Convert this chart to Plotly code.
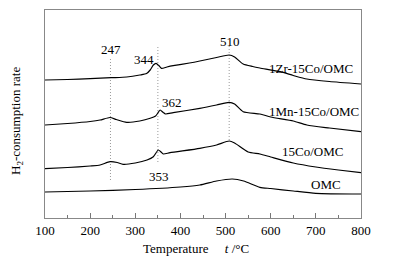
import plotly.graph_objects as go

# Temperature (°C) and H2-consumption signal (arbitrary units, offset per curve)
zr_t = [100, 150, 200, 247, 281, 310, 325, 333, 340, 346, 352, 358, 370, 384, 420, 443, 480, 508, 520, 539, 560, 576, 621, 650, 680, 730, 800]
zr_v = [138, 138.5, 139.3, 140.3, 141, 143, 144.5, 148, 153, 154.7, 152.5, 149.7, 151, 152.3, 155, 157, 160.5, 163, 161, 154, 151.5, 150, 146.3, 142.5, 139, 136.5, 134]

mn_t = [100, 150, 200, 222, 244, 258, 281, 310, 333, 345, 350, 355, 362, 367, 384, 443, 480, 508, 520, 539, 576, 600, 650, 680, 730, 800]
mn_v = [93, 94.5, 96.5, 98, 100.5, 98.5, 95.7, 97, 99.7, 102, 105, 108, 105.5, 104, 105.3, 109.7, 113, 115.7, 114, 106.3, 104, 101, 97, 93, 90, 86.3]

co_t = [100, 150, 200, 222, 244, 260, 273, 300, 326, 340, 351, 357, 362, 377, 443, 480, 508, 520, 550, 576, 600, 650, 700, 750, 800]
co_v = [49.3, 50.5, 52, 53, 56.3, 55.5, 53.7, 55, 58, 61.3, 68, 66, 64, 65.3, 69.7, 73, 77, 75, 66, 64, 61, 55, 51, 48, 45.3]

omc_t = [100, 200, 300, 400, 443, 480, 515, 540, 576, 600, 650, 700, 800]
omc_v = [26, 27, 28.5, 31, 33, 37, 39, 37, 30.7, 29.5, 27, 24.7, 24]

series_names = ["1Zr-15Co/OMC", "1Mn-15Co/OMC", "15Co/OMC", "OMC"]
label_x = [689, 696, 692.6, 722.5]
label_y = [150, 106.5, 67, 33.5]

peak_labels = ["247", "344", "510", "362", "353"]
peak_x = [247, 319, 510, 380.6, 352.5]
peak_y = [169, 159, 177, 115.5, 41.5]

vline_x = [245, 350, 508]
vline_top = [161, 173, 173]
vline_bottom = [38, 56, 78]

x_ticks = [100, 200, 300, 400, 500, 600, 700, 800]

FONT = "Liberation Serif, Times New Roman, serif"

fig = go.Figure()

for vx, vt, vb in zip(vline_x, vline_top, vline_bottom):
    fig.add_trace(go.Scatter(x=[vx, vx], y=[vb, vt], mode="lines",
                             line=dict(color="#999999", width=1, dash="1px,2px"),
                             showlegend=False, hoverinfo="skip"))

for t, v in [(zr_t, zr_v), (mn_t, mn_v), (co_t, co_v), (omc_t, omc_v)]:
    fig.add_trace(go.Scatter(x=t, y=v, mode="lines",
                             line=dict(color="black", width=1.2, shape="spline", smoothing=0.6),
                             showlegend=False))

for name, lx, ly in zip(series_names, label_x, label_y):
    fig.add_annotation(x=lx, y=ly, text=name, showarrow=False,
                       xanchor="center", yanchor="middle",
                       font=dict(family=FONT, size=13, color="black"))

for txt, px_, py_ in zip(peak_labels, peak_x, peak_y):
    fig.add_annotation(x=px_, y=py_, text=txt, showarrow=False,
                       xanchor="center", yanchor="middle",
                       font=dict(family=FONT, size=13, color="black"))

fig.add_annotation(xref="paper", yref="paper", x=0.479, y=-0.149,
                   xanchor="center", yanchor="middle",
                   text="Temperature&nbsp;&nbsp;&nbsp;&nbsp;&nbsp;<i>t</i> /°C", showarrow=False,
                   font=dict(family=FONT, size=13, color="black"))
fig.add_annotation(xref="paper", yref="paper", x=-0.092, y=0.466, textangle=-90,
                   xanchor="center", yanchor="middle",
                   text="H<sub>2</sub>-consumption rate", showarrow=False,
                   font=dict(family=FONT, size=13, color="black"))

fig.update_layout(
    width=400, height=261,
    margin=dict(l=45, r=39, t=10, b=43),
    paper_bgcolor="white", plot_bgcolor="white",
    font=dict(family=FONT, size=13, color="black"),
    xaxis=dict(range=[100, 800], tickvals=x_ticks, ticks="inside", ticklen=5,
               tickcolor="#777", showline=True, linecolor="#888", linewidth=1,
               mirror=True, showgrid=False, zeroline=False,
               minor=dict(dtick=50, tick0=100, ticks="inside", ticklen=3, tickcolor="#777"),
               tickfont=dict(family=FONT, size=13, color="black")),
    yaxis=dict(range=[0, 208], showticklabels=False, ticks="", showline=True,
               linecolor="#888", linewidth=1, mirror=True, showgrid=False, zeroline=False),
)

fig.write_html("out.html", config={"displayModeBar": False},
               post_script="document.body.style.margin='0';document.body.style.padding='0';")
